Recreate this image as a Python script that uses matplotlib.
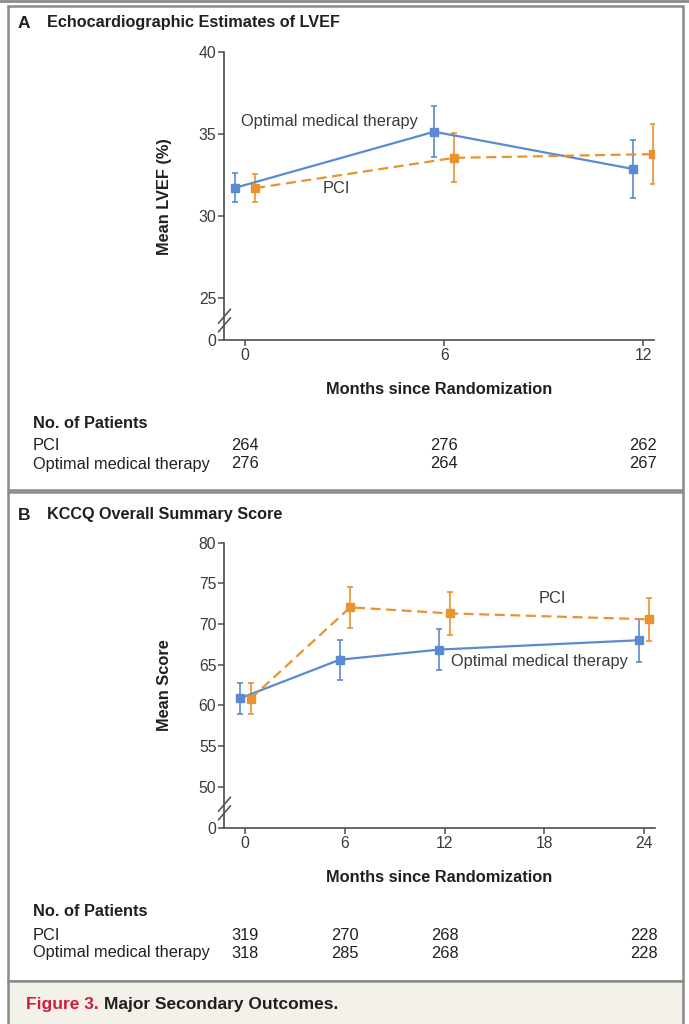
import matplotlib
matplotlib.use('Agg')
import matplotlib.pyplot as plt
from matplotlib.patches import Rectangle
from matplotlib.path import Path
import matplotlib.transforms as mtransforms

plt.rcParams['font.family'] = ['Liberation Sans', 'DejaVu Sans']

BLUE = '#5a8bd0'
ORANGE = '#e9922e'
TEXT = '#231f20'
FRAME = '#8a8a8a'

# panel A: LVEF
lvef_months = [0, 6, 12]
lvef_pci = [31.7, 33.55, 33.78]
lvef_pci_err = [0.88, 1.5, 1.85]
lvef_omt = [31.72, 35.15, 32.87]
lvef_omt_err = [0.88, 1.55, 1.8]
lvef_yticks = [25, 30, 35, 40]
lvef_n_pci = ['264', '276', '262']
lvef_n_omt = ['276', '264', '267']

# panel B: KCCQ
kccq_months = [0, 6, 12, 24]
kccq_xticks = [0, 6, 12, 18, 24]
kccq_pci = [60.8, 72.05, 71.3, 70.57]
kccq_pci_err = [1.9, 2.5, 2.6, 2.65]
kccq_omt = [60.85, 65.6, 66.85, 68.0]
kccq_omt_err = [1.9, 2.45, 2.55, 2.65]
kccq_yticks = [50, 55, 60, 65, 70, 75, 80]
kccq_n_pci = ['319', '270', '268', '228']
kccq_n_omt = ['318', '285', '268', '228']

W, H = 689, 1024
fig = plt.figure(figsize=(W / 100, H / 100), dpi=100)
fig.patch.set_facecolor('white')

FS = 11.8       # regular text
FS_B = 11.8     # bold labels
FS_TICK = 11.3


def fx(px):
    return px / W


def fy(py):
    return 1 - py / H


# break marker: two steep slanted strokes
brk = Path([(-0.3, -0.55), (0.3, 0.15), (-0.3, -0.15), (0.3, 0.55)],
           [Path.MOVETO, Path.LINETO, Path.MOVETO, Path.LINETO])


def draw_panel(ax, months, pci, pci_err, omt, omt_err, xticks, yticks,
               xlim, ylim, fake_zero, ybreak, shift):
    x_omt = [m - shift for m in months]
    x_pci = [m + shift for m in months]
    ax.errorbar(x_omt, omt, yerr=omt_err, fmt='s-', color=BLUE, lw=1.6,
                ms=5.5, elinewidth=1.2, capsize=2.5, capthick=1.2, zorder=3)
    ax.errorbar(x_pci, pci, yerr=pci_err, fmt='s--', color=ORANGE, lw=1.6,
                ms=5.5, elinewidth=1.2, capsize=2.5, capthick=1.2,
                dashes=(4.5, 2.5), zorder=3)
    ax.set_xlim(*xlim)
    ax.set_ylim(*ylim)
    ax.set_xticks(xticks)
    ax.set_xticklabels([str(t) for t in xticks])
    ax.set_yticks([fake_zero] + yticks)
    ax.set_yticklabels(['0'] + [str(t) for t in yticks])
    for s in ['top', 'right']:
        ax.spines[s].set_visible(False)
    for s in ['left', 'bottom']:
        ax.spines[s].set_color('#4d4d4d')
        ax.spines[s].set_linewidth(1.2)
    ax.tick_params(direction='out', length=4, width=1.1, color='#4d4d4d',
                   labelsize=FS_TICK, labelcolor='#3a3a3a', pad=1.5)
    ax.plot([xlim[0]], [ybreak], marker=brk, ms=17, mew=1.1,
            color='#4d4d4d', clip_on=False, zorder=5)
    ax.patch.set_alpha(0)


def n_table(ax, top, months, n_pci, n_omt):
    trans = mtransforms.blended_transform_factory(ax.transData, fig.transFigure)
    fig.text(fx(33), fy(top), 'No. of Patients', fontsize=FS_B, weight='bold',
             color=TEXT, va='center')
    fig.text(fx(33), fy(top + 23), 'PCI', fontsize=FS, color=TEXT, va='center')
    fig.text(fx(33), fy(top + 41), 'Optimal medical therapy', fontsize=FS,
             color=TEXT, va='center')
    for m, a, b in zip(months, n_pci, n_omt):
        ax.text(m, fy(top + 23), a, transform=trans, ha='center', va='center',
                fontsize=FS, color=TEXT)
        ax.text(m, fy(top + 41), b, transform=trans, ha='center', va='center',
                fontsize=FS, color=TEXT)


# frames
fig.add_artist(plt.Line2D([0, 1], [fy(1), fy(1)], color=FRAME, lw=2))
fig.add_artist(Rectangle((fx(8), fy(490)), fx(675), (490 - 6) / H,
                         fill=False, ec=FRAME, lw=1.8))
fig.add_artist(Rectangle((fx(8), fy(981)), fx(675), (981 - 492) / H,
                         fill=False, ec=FRAME, lw=1.8))
fig.add_artist(Rectangle((fx(8), fy(1026)), fx(675), (1026 - 981) / H,
                         fc='#f4f1ea', ec=FRAME, lw=1.8))

# panel A
axA = fig.add_axes([fx(224), fy(340), fx(654 - 224), (340 - 52.5) / H])
draw_panel(axA, lvef_months, lvef_pci, lvef_pci_err, lvef_omt, lvef_omt_err,
           lvef_months, lvef_yticks, (-0.64, 12.33), (22.4, 40), 22.4, 23.6, 0.3)
axA.set_ylabel('Mean LVEF (%)', fontsize=FS_B, weight='bold', color=TEXT,
               labelpad=19)
axA.set_xlabel('Months since Randomization', fontsize=FS_B, weight='bold',
               color=TEXT, labelpad=14)
axA.text(2.53, 35.78, 'Optimal medical therapy', ha='center', va='center',
         fontsize=FS, color='#3a3a3a')
axA.text(2.76, 31.66, 'PCI', ha='center', va='center', fontsize=FS,
         color='#3a3a3a')
fig.text(fx(18), fy(23), 'A', fontsize=12.5, weight='bold', color=TEXT, va='center')
fig.text(fx(47), fy(23), 'Echocardiographic Estimates of LVEF', fontsize=11.7,
         weight='bold', color=TEXT, va='center')
n_table(axA, 423, lvef_months, lvef_n_pci, lvef_n_omt)

# panel B
axB = fig.add_axes([fx(224), fy(828), fx(655 - 224), (828 - 542.7) / H])
draw_panel(axB, kccq_months, kccq_pci, kccq_pci_err, kccq_omt, kccq_omt_err,
           kccq_xticks, kccq_yticks, (-1.28, 24.67), (44.9, 80), 44.9, 47.3, 0.32)
axB.set_ylabel('Mean Score', fontsize=FS_B, weight='bold', color=TEXT,
               labelpad=19)
axB.set_xlabel('Months since Randomization', fontsize=FS_B, weight='bold',
               color=TEXT, labelpad=14)
axB.text(18.5, 73.16, 'PCI', ha='center', va='center', fontsize=FS,
         color='#3a3a3a')
axB.text(17.7, 65.37, 'Optimal medical therapy', ha='center', va='center',
         fontsize=FS, color='#3a3a3a')
fig.text(fx(18), fy(515), 'B', fontsize=12.5, weight='bold', color=TEXT, va='center')
fig.text(fx(47), fy(515), 'KCCQ Overall Summary Score', fontsize=11.7,
         weight='bold', color=TEXT, va='center')
n_table(axB, 912, kccq_months, kccq_n_pci, kccq_n_omt)

# caption
cap = fig.text(fx(26), fy(1004), 'Figure 3.', fontsize=12.5, weight='bold',
               color='#cc1f3a', va='center')
fig.canvas.draw()
bb = cap.get_window_extent()
fig.text(bb.x1 / W + fx(5), fy(1004), 'Major Secondary Outcomes.', fontsize=12.5,
         weight='bold', color=TEXT, va='center')

fig.savefig('out.png', dpi=100)
